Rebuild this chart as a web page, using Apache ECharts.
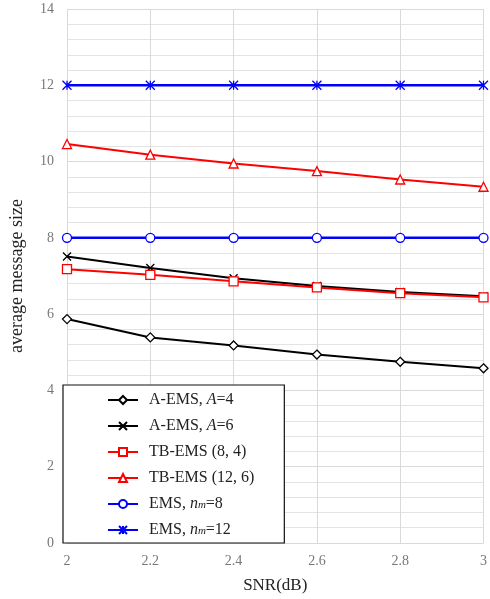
<!DOCTYPE html>
<html>
<head>
<meta charset="utf-8">
<script src="https://cdn.jsdelivr.net/npm/echarts@6/dist/echarts.min.js"></script>
<style>html,body{margin:0;padding:0;background:#fff}#c{width:490px;height:599px}</style>
</head>
<body>
<div id="c"></div>
<script>
var snr = ['2', '2.2', '2.4', '2.6', '2.8', '3'];
var aems4 = [5.87, 5.39, 5.18, 4.94, 4.75, 4.58];
var aems6 = [7.51, 7.21, 6.94, 6.74, 6.58, 6.47];
var tb84 = [7.18, 7.03, 6.86, 6.70, 6.55, 6.44];
var tb126 = [10.46, 10.18, 9.95, 9.75, 9.53, 9.34];
var ems8 = [8, 8, 8, 8, 8, 8];
var ems12 = [12, 12, 12, 12, 12, 12];
var yTicks = [0, 2, 4, 6, 8, 10, 12, 14];

var xPath = 'path://M0,0 L10,10 M10,0 L0,10';
var starPath = 'path://M0,0 L10,10 M10,0 L0,10 M5,0 L5,10';

function mk(name, data, color, symbol, size, lw) {
  return {
    name: name, type: 'line', data: data,
    symbol: symbol, symbolSize: size, showSymbol: true,
    lineStyle: {color: color, width: lw},
    itemStyle: {color: (symbol.indexOf('path') === 0) ? 'none' : '#fff', borderColor: color, borderWidth: 1.3},
    emphasis: {disabled: true},
    animation: false, z: 3
  };
}

var chart = echarts.init(document.getElementById('c'), null, {renderer: 'canvas'});
var serif = '"Liberation Serif", "DejaVu Serif", serif';
chart.setOption({
  animation: false,
  grid: {left: 63, right: 3, top: 9, bottom: 54, containLabel: false},
  xAxis: {
    type: 'category', data: snr, boundaryGap: false,
    axisLine: {show: false}, axisTick: {show: false},
    splitLine: {show: true, lineStyle: {color: '#d9d9d9', width: 1}},
    axisLabel: {color: '#777', fontFamily: serif, fontSize: 14, margin: 11},
    name: 'SNR(dB)', nameLocation: 'middle', nameGap: 34,
    nameTextStyle: {color: '#222', fontFamily: serif, fontSize: 17}
  },
  yAxis: {
    type: 'value', min: yTicks[0], max: yTicks[yTicks.length - 1], interval: 2,
    axisLine: {show: false}, axisTick: {show: false},
    splitLine: {show: true, lineStyle: {color: '#d9d9d9', width: 1}},
    minorTick: {show: false, splitNumber: 5},
    minorSplitLine: {show: true, lineStyle: {color: '#e3e3e3', width: 1}},
    axisLabel: {color: '#777', fontFamily: serif, fontSize: 14, margin: 13},
    name: 'average message size', nameLocation: 'middle', nameGap: 41,
    nameTextStyle: {color: '#222', fontFamily: serif, fontSize: 18}
  },
  legend: {
    orient: 'vertical', left: 63, top: 385,
    backgroundColor: '#fff', borderColor: '#111', borderWidth: 1.2,
    padding: [7, 30, 5, 44], itemGap: 10, itemWidth: 30, itemHeight: 10,
    textStyle: {
      fontFamily: serif, fontSize: 16, color: '#222', padding: [0, 0, 0, 6], lineHeight: 14,
      rich: {
        t: {fontFamily: serif, fontSize: 16, color: '#222', lineHeight: 14},
        i: {fontFamily: serif, fontStyle: 'italic', fontSize: 16, color: '#222', lineHeight: 14},
        s: {fontFamily: serif, fontStyle: 'italic', fontSize: 11, color: '#222', lineHeight: 3, verticalAlign: 'bottom'}
      }
    },
    formatter: function (n) {
      if (n === 'A-EMS, A=4') return '{t|A-EMS, }{i|A}{t|=4}';
      if (n === 'A-EMS, A=6') return '{t|A-EMS, }{i|A}{t|=6}';
      if (n === 'EMS, nm=8') return '{t|EMS, }{i|n}{s|m}{t|=8}';
      if (n === 'EMS, nm=12') return '{t|EMS, }{i|n}{s|m}{t|=12}';
      return '{t|' + n + '}';
    },
    z: 10
  },
  series: [
    mk('A-EMS, A=4', aems4, '#000', 'diamond', 9, 2),
    mk('A-EMS, A=6', aems6, '#000', xPath, 8, 2),
    mk('TB-EMS (8, 4)', tb84, '#ff0000', 'rect', 9, 2),
    mk('TB-EMS (12, 6)', tb126, '#ff0000', 'triangle', 9, 2),
    mk('EMS, nm=8', ems8, '#0000ff', 'circle', 9, 2.5),
    mk('EMS, nm=12', ems12, '#0000ff', starPath, 9, 2.5)
  ]
});
</script>
</body>
</html>
